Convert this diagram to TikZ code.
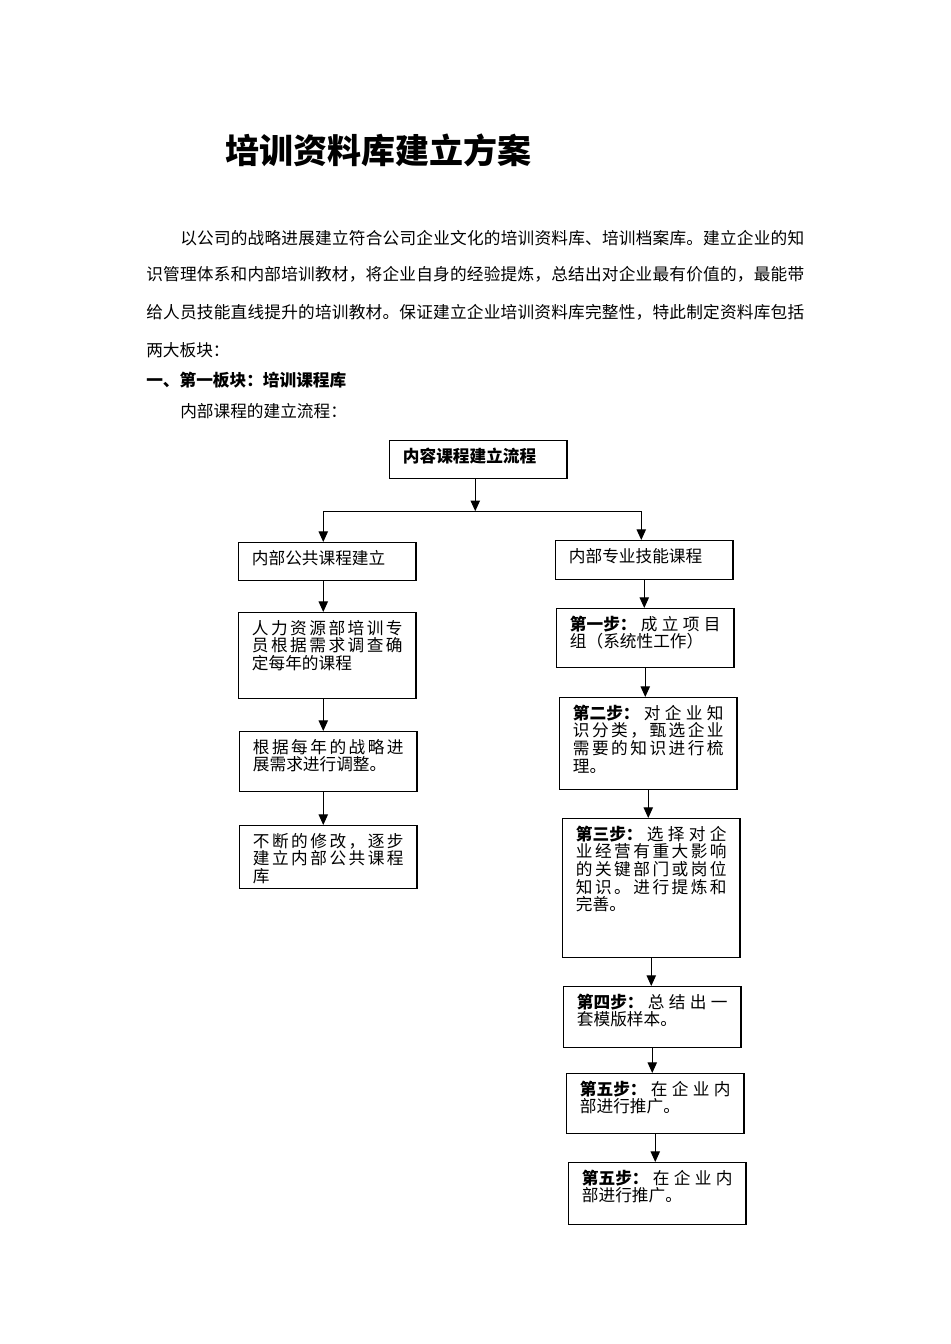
\documentclass[tikz,border=0pt]{standalone}
\usepackage{fontspec}
\setmainfont{Noto Sans CJK SC}
\usetikzlibrary{arrows.meta,calc}

% spread the characters of one line over the full width
\ExplSyntaxOn
\NewDocumentCommand\spaced{m}{\tl_map_inline:nn{#1}{##1\hfil}\unskip}
\ExplSyntaxOff
\newcommand\fullline[1]{\hbox to \linewidth{#1}}
\newcommand\bodyline[2]{\hbox to #1{\spaced{#2}}}

\begin{document}
\begin{tikzpicture}[x=0.75pt, y=-0.75pt,
        every node/.style={font=\fontsize{12.5pt}{13.2pt}\selectfont},
        textline/.style={anchor=west, inner sep=0pt},
        stepbox/.style={draw, line width=0.9pt, anchor=north west,
            inner xsep=10pt, inner ysep=5.5pt,
            execute at begin node={\begin{minipage}[t][#1][t]{113pt}},
            execute at end node={\end{minipage}}},
        flow/.style={-{Triangle[length=8pt,width=7pt]}, line width=0.9pt},
    ]
        \useasboundingbox (0,0) rectangle (950,1344);

        % Title and text
        \node[textline, font=\fontsize{25.5pt}{30pt}\selectfont\bfseries] (head) at (225,150)
              {培训资料库建立方案};
        \node[textline] (p1) at (180,238)
              {\bodyline{468pt}{以公司的战略进展建立符合公司企业文化的培训资料库、培训档案库。建立企业的知}};
        \node[textline] (p2) at (146,274)
              {\bodyline{493.5pt}{识管理体系和内部培训教材，将企业自身的经验提炼，总结出对企业最有价值的，最能带}};
        \node[textline] (p3) at (146,312)
              {\bodyline{493.5pt}{给人员技能直线提升的培训教材。保证建立企业培训资料库完整性，特此制定资料库包括}};
        \node[textline] (p4) at (146,350) {两大板块：};
        \node[textline, font=\fontsize{12.5pt}{13.2pt}\selectfont\bfseries] (part) at (146,380)
              {一、第一板块：培训课程库};
        \node[textline] (sub) at (180,411) {内部课程的建立流程：};

        % Top box
        \node[stepbox=17.5pt, font=\fontsize{12.5pt}{13.2pt}\selectfont\bfseries] (flowtitle) at (389,440)
              {内容课程建立流程};

        % Left column
        \node[stepbox=17.5pt] (pub) at (238,542) {内部公共课程建立};
        \node[stepbox=53.5pt] (hr) at (238,612)
              {\fullline{\spaced{人力资源部培训专}}\par
               \fullline{\spaced{员根据需求调查确}}\par
               定每年的课程};
        \node[stepbox=34pt] (adj) at (239,731)
              {\fullline{\spaced{根据每年的战略进}}\par
               展需求进行调整。};
        \node[stepbox=36.25pt] (publib) at (239,825)
              {\fullline{\spaced{不断的修改，逐步}}\par
               \fullline{\spaced{建立内部公共课程}}\par
               库};

        % Right column
        \node[stepbox=18.25pt] (pro) at (555,540) {内部专业技能课程};
        \node[stepbox=33.25pt] (s1) at (556,608)
              {\fullline{\textbf{第一步：}\hfil\spaced{成立项目}}\par
               组（系统性工作）};
        \node[stepbox=58pt] (s2) at (559,697)
              {\fullline{\textbf{第二步：}\hfil\spaced{对企业知}}\par
               \fullline{\spaced{识分类，甄选企业}}\par
               \fullline{\spaced{需要的知识进行梳}}\par
               理。};
        \node[stepbox=93.25pt] (s3) at (562,818)
              {\fullline{\textbf{第三步：}\hfil\spaced{选择对企}}\par
               \fullline{\spaced{业经营有重大影响}}\par
               \fullline{\spaced{的关键部门或岗位}}\par
               \fullline{\spaced{知识。进行提炼和}}\par
               完善。};
        \node[stepbox=34.75pt] (s4) at (563,986)
              {\fullline{\textbf{第四步：}\hfil\spaced{总结出一}}\par
               套模版样本。};
        \node[stepbox=34pt] (s5) at (566,1073)
              {\fullline{\textbf{第五步：}\hfil\spaced{在企业内}}\par
               部进行推广。};
        \node[stepbox=35.5pt] (s6) at (568,1162)
              {\fullline{\textbf{第五步：}\hfil\spaced{在企业内}}\par
               部进行推广。};

        % Split
        \coordinate (split) at ($(flowtitle.south)+(-3,32)$);
        \coordinate (splitL) at ($(pub.north |- split)+(-4,0)$);
        \coordinate (splitR) at ($(pro.north |- split)+(-3,0)$);
        \draw[flow] ($(flowtitle.south)+(-3,0)$) -- (split);
        \draw[line width=0.9pt] (splitL) -- (splitR);
        \draw[flow] (splitL) -- (splitL |- pub.north);
        \draw[flow] (splitR) -- (splitR |- pro.north);

        % Arrows
        \draw[flow] (splitL |- pub.south) -- (splitL |- hr.north);
        \draw[flow] (splitL |- hr.south) -- (splitL |- adj.north);
        \draw[flow] (splitL |- adj.south) -- (splitL |- publib.north);
        \draw[flow] (pro.south) -- (pro.south |- s1.north);
        \draw[flow] (s1.south) -- (s1.south |- s2.north);
        \draw[flow] (s2.south) -- (s2.south |- s3.north);
        \draw[flow] (s3.south) -- (s3.south |- s4.north);
        \draw[flow] (s4.south) -- (s4.south |- s5.north);
        \draw[flow] (s5.south) -- (s5.south |- s6.north);
    \end{tikzpicture}
\end{document}
